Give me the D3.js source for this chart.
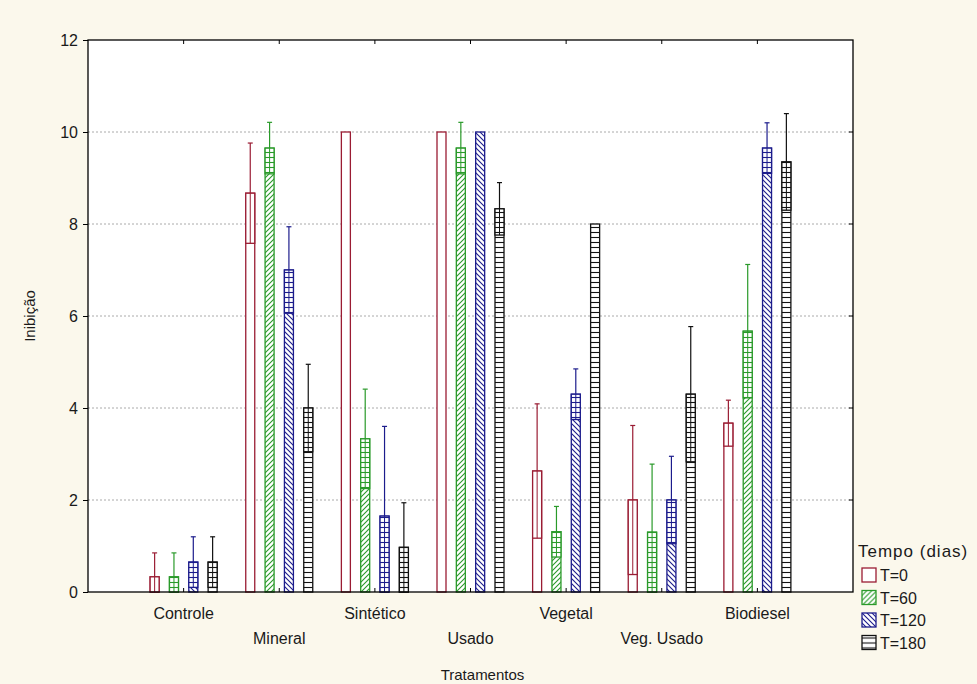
<!DOCTYPE html>
<html>
<head>
<meta charset="utf-8">
<script src="https://cdn.jsdelivr.net/npm/d3@7"></script>
<style>
  body { margin: 0; background: #fbf8ec; }
  svg { display: block; font-family: "Liberation Sans", Arial, sans-serif; }
</style>
</head>
<body>
<div id="chart-area"></div>
<script>
// data
var categories = ["Controle", "Mineral", "Sintético", "Usado", "Vegetal", "Veg. Usado", "Biodiesel"];
var series = ["T=0", "T=60", "T=120", "T=180"];
var meanT0   = [0.33, 8.67, 10.0, 10.0, 2.63, 2.0, 3.67];
var meanT60  = [0.33, 9.65, 3.33, 9.65, 1.31, 1.3, 5.67];
var meanT120 = [0.65, 7.0, 1.65, 10.0, 4.3, 2.0, 9.65];
var meanT180 = [0.65, 4.0, 0.97, 8.33, 8.0, 4.3, 9.35];
var errT0    = [0.52, 1.09, 0, 0, 1.46, 1.62, 0.5];
var errT60   = [0.52, 0.56, 1.08, 0.56, 0.55, 1.48, 1.45];
var errT120  = [0.55, 0.94, 1.95, 0, 0.55, 0.95, 0.55];
var errT180  = [0.55, 0.95, 0.97, 0.57, 0, 1.47, 1.05];
var yTicks = [0, 2, 4, 6, 8, 10, 12];

var means = [meanT0, meanT60, meanT120, meanT180];
var errs = [errT0, errT60, errT120, errT180];
var colors = ["#9a1c33", "#2a9a2a", "#1c1c8c", "#111111"];
var patterns = ["none", "hatchFwd", "hatchBack", "hstripe"];
var textColor = "#1a1a1a";

var W = 977, H = 684;
var margin = { left: 88, right: 124, top: 40, bottom: 92 };
var width = W - margin.left - margin.right,
    height = H - margin.top - margin.bottom;

var svg = d3.select("#chart-area").append("svg")
    .attr("width", W)
    .attr("height", H);

// patterns
var defs = svg.append("defs");
function hatch(id, color, d) {
    var p = defs.append("pattern")
        .attr("id", id)
        .attr("patternUnits", "userSpaceOnUse")
        .attr("width", 5).attr("height", 5);
    p.append("rect").attr("width", 5).attr("height", 5).attr("fill", "#fff");
    p.append("path").attr("d", d).attr("stroke", color).attr("stroke-width", 1.1).attr("fill", "none");
}
hatch("hatchFwd", colors[1], "M-1,6 L6,-1 M-1,1 L1,-1 M4,6 L6,4");
hatch("hatchBack", colors[2], "M-1,-1 L6,6 M4,-1 L6,1 M-1,4 L1,6");
hatch("hstripe", colors[3], "M0,2.5 L5,2.5");
hatch("box0", colors[0], "");
hatch("box1", colors[1], "M0,2.5 L5,2.5");
hatch("box2", colors[2], "M0,2.5 L5,2.5");
hatch("box3", colors[3], "M0,2.5 L5,2.5");

var g = svg.append("g")
    .attr("transform", "translate(" + margin.left + "," + margin.top + ")");

g.append("rect")
    .attr("width", width)
    .attr("height", height)
    .attr("fill", "#fff");

// scales
var x = d3.scalePoint()
    .domain(categories)
    .range([0, width])
    .padding(1);
var xs = d3.scalePoint()
    .domain(series)
    .range([-29, 29]);
var y = d3.scaleLinear()
    .domain([0, 12])
    .range([height, 0]);
var barW = 9;

// grid
g.selectAll(".grid")
    .data(yTicks.filter(function(d) { return d > 0 && d < 12; }))
    .enter().append("line")
    .attr("x1", 0).attr("x2", width)
    .attr("y1", function(d) { return y(d); })
    .attr("y2", function(d) { return y(d); })
    .attr("stroke", "#aaa")
    .attr("stroke-width", 1)
    .attr("stroke-dasharray", "2,2");

// bars
series.forEach(function(s, si) {
    var rows = categories.map(function(c, ci) {
        return { cat: c, mean: means[si][ci], err: errs[si][ci] };
    });
    var sg = g.append("g");
    var bx = function(d) { return x(d.cat) + xs(s) - barW / 2; };

    sg.selectAll(".bar").data(rows).enter().append("rect")
        .attr("x", bx)
        .attr("y", function(d) { return y(d.mean); })
        .attr("width", barW)
        .attr("height", function(d) { return y(0) - y(d.mean); })
        .attr("fill", patterns[si] == "none" ? "#fff" : "url(#" + patterns[si] + ")")
        .attr("stroke", colors[si])
        .attr("stroke-width", 1.3);

    var withErr = rows.filter(function(d) { return d.err > 0; });

    // lower half of the error shown as a box
    sg.selectAll(".box").data(withErr).enter().append("rect")
        .attr("x", bx)
        .attr("y", function(d) { return y(d.mean); })
        .attr("width", barW)
        .attr("height", function(d) { return y(Math.max(0, d.mean - d.err)) - y(d.mean); })
        .attr("fill", "url(#box" + si + ")")
        .attr("stroke", colors[si])
        .attr("stroke-width", 1.3);
    sg.selectAll(".boxmid").data(withErr).enter().append("line")
        .attr("x1", function(d) { return bx(d) + barW / 2; })
        .attr("x2", function(d) { return bx(d) + barW / 2; })
        .attr("y1", function(d) { return y(d.mean); })
        .attr("y2", function(d) { return y(Math.max(0, d.mean - d.err)); })
        .attr("stroke", colors[si]);

    // whisker
    sg.selectAll(".wh").data(withErr).enter().append("line")
        .attr("x1", function(d) { return bx(d) + barW / 2; })
        .attr("x2", function(d) { return bx(d) + barW / 2; })
        .attr("y1", function(d) { return y(d.mean); })
        .attr("y2", function(d) { return y(d.mean + d.err); })
        .attr("stroke", colors[si])
        .attr("stroke-width", 1.2);
    sg.selectAll(".cap").data(withErr).enter().append("line")
        .attr("x1", function(d) { return bx(d) + barW / 2 - 2.5; })
        .attr("x2", function(d) { return bx(d) + barW / 2 + 2.5; })
        .attr("y1", function(d) { return y(d.mean + d.err); })
        .attr("y2", function(d) { return y(d.mean + d.err); })
        .attr("stroke", colors[si])
        .attr("stroke-width", 1.2);
});

// frame
g.append("rect")
    .attr("width", width)
    .attr("height", height)
    .attr("fill", "none")
    .attr("stroke", "#000")
    .attr("stroke-width", 1.3);

// y axis
var yAxisCall = d3.axisLeft(y)
    .tickValues(yTicks)
    .tickSize(5)
    .tickPadding(5);
var yAx = g.append("g").call(yAxisCall);
yAx.select(".domain").remove();
yAx.selectAll("text").attr("font-size", "16px").attr("fill", textColor)
    .attr("font-family", "'Liberation Sans', Arial, sans-serif");

// right inner ticks
g.selectAll(".rtick").data(yTicks.filter(function(d) { return d > 0 && d < 12; }))
    .enter().append("line")
    .attr("x1", width - 4).attr("x2", width)
    .attr("y1", function(d) { return y(d); })
    .attr("y2", function(d) { return y(d); })
    .attr("stroke", "#000");

// x category ticks (inner, top and bottom)
categories.forEach(function(c) {
    g.append("line").attr("x1", x(c)).attr("x2", x(c))
        .attr("y1", height).attr("y2", height - 4).attr("stroke", "#000");
    g.append("line").attr("x1", x(c)).attr("x2", x(c))
        .attr("y1", 0).attr("y2", 4).attr("stroke", "#000");
});

// x labels, staggered
g.selectAll(".xlab").data(categories).enter().append("text")
    .attr("x", function(d) { return x(d); })
    .attr("y", function(d, i) { return height + (i % 2 == 0 ? 27 : 52); })
    .attr("text-anchor", "middle")
    .attr("font-size", "16px")
    .attr("fill", textColor)
    .text(function(d) { return d; });

// axis titles
g.append("text")
    .attr("x", width / 2 + 12)
    .attr("y", height + 88)
    .attr("text-anchor", "middle")
    .attr("font-size", "15px")
    .attr("fill", textColor)
    .text("Tratamentos");
g.append("text")
    .attr("transform", "rotate(-90)")
    .attr("x", -height / 2)
    .attr("y", -53)
    .attr("text-anchor", "middle")
    .attr("font-size", "15px")
    .attr("fill", textColor)
    .text("Inibição");

// legend
var legend = svg.append("g")
    .attr("transform", "translate(858,557)");
legend.append("text")
    .attr("x", 0).attr("y", 0)
    .attr("font-size", "17px")
    .attr("letter-spacing", "1px")
    .attr("fill", textColor)
    .text("Tempo (dias)");
series.forEach(function(s, i) {
    var row = legend.append("g")
        .attr("transform", "translate(4," + (11 + i * 22.5) + ")");
    row.append("rect")
        .attr("width", 14).attr("height", 14)
        .attr("fill", patterns[i] == "none" ? "#fff" : "url(#" + patterns[i] + ")")
        .attr("stroke", colors[i])
        .attr("stroke-width", 1.3);
    row.append("text")
        .attr("x", 18).attr("y", 13)
        .attr("font-size", "16px")
        .attr("fill", textColor)
        .text(s);
});
</script>
</body>
</html>
